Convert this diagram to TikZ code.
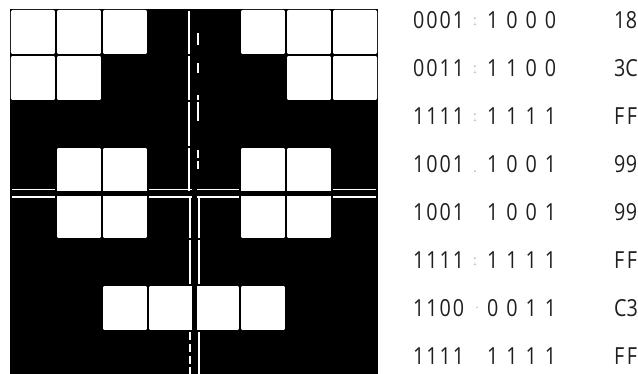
\documentclass[tikz,border=0pt]{standalone}
\usepackage{fontspec}
\setmainfont{Open Sans}
\newfontfamily\bitfont[FakeStretch=0.84]{Open Sans}
\begin{document}
\begin{tikzpicture}[x=1pt,y=-1pt]
\tikzset{
  bits/.style={font=\bitfont\fontsize{23.5}{23.5}\selectfont, text=black!88, inner sep=0pt, anchor=west},
  sepmark/.style={font=\fontsize{14}{14}\selectfont, text=black!30, inner sep=0pt},
  cellfill/.style={fill=white, rounded corners=2.5pt},
  axisline/.style={draw=white, line width=1.6pt},
  gridcut/.style={draw=black, line width=1.6pt},
  centercut/.style={draw=black, line width=5pt},
}
\useasboundingbox (0,0) rectangle (638,374);
\fill[white] (0,0) rectangle (638,374);
% ---------- the 8x8 pixel grid ----------
\begin{scope}
\clip (10,9) rectangle (378,374);
\fill[black] (10,9) rectangle (378,377);
% white axis lines (double cross)
\path[axisline] (12,189.7) -- (376,189.7);
\path[axisline] (12,197.2) -- (376,197.2);
\path[axisline] (189,11) -- (189,192);
\path[axisline] (198,33) -- (198,45) (198,63) -- (198,73) (198,95) -- (198,121)
                (198,150) -- (198,158) (198,161) -- (198,169);
\path[axisline] (190,196) -- (190,376);
\path[axisline] (199,196) -- (199,376);
% white cells (complement of the bit pattern)
\foreach \r/\c in {0/0,0/1,0/2,0/5,0/6,0/7,
                   1/0,1/1,1/6,1/7,
                   3/1,3/2,3/5,3/6,
                   4/1,4/2,4/5,4/6,
                   6/2,6/3,6/4,6/5}
  \path[cellfill] ({10+46*\c+0.8},{9+46*\r+0.8}) rectangle ({10+46*(\c+1)-0.8},{9+46*(\r+1)-0.8});
% black separators between cells
\foreach \i in {1,2,3,5,6,7} {
  \path[gridcut] ({10+46*\i},9) -- ({10+46*\i},377);
  \path[gridcut] (10,{9+46*\i}) -- (378,{9+46*\i});
}
\path[centercut] (194,9) -- (194,377);
\path[centercut] (10,193.5) -- (378,193.5);
% gaps in the lower left axis line below the bottom cells
\path[draw=black, line width=2pt] (190,340) -- (190,344) (190,352) -- (190,356) (190,364) -- (190,367);
\end{scope}
% ---------- the table of bytes ----------
\node[bits] (a1) at (413,20)  {\hbox to 51pt{0\hfil0\hfil0\hfil1}};
\node[bits] (a2) at (413,68)  {\hbox to 51pt{0\hfil0\hfil1\hfil1}};
\node[bits] (a3) at (413,116) {\hbox to 51pt{1\hfil1\hfil1\hfil1}};
\node[bits] (a4) at (413,164) {\hbox to 51pt{1\hfil0\hfil0\hfil1}};
\node[bits] (a5) at (413,212) {\hbox to 51pt{1\hfil0\hfil0\hfil1}};
\node[bits] (a6) at (413,260) {\hbox to 51pt{1\hfil1\hfil1\hfil1}};
\node[bits] (a7) at (413,308) {\hbox to 51pt{1\hfil1\hfil0\hfil0}};
\node[bits] (a8) at (413,356) {\hbox to 51pt{1\hfil1\hfil1\hfil1}};
\node[bits] (b1) at (487,20)  {\hbox to 69pt{1\hfil0\hfil0\hfil0}};
\node[bits] (b2) at (487,68)  {\hbox to 69pt{1\hfil1\hfil0\hfil0}};
\node[bits] (b3) at (487,116) {\hbox to 69pt{1\hfil1\hfil1\hfil1}};
\node[bits] (b4) at (487,164) {\hbox to 69pt{1\hfil0\hfil0\hfil1}};
\node[bits] (b5) at (487,212) {\hbox to 69pt{1\hfil0\hfil0\hfil1}};
\node[bits] (b6) at (487,260) {\hbox to 69pt{1\hfil1\hfil1\hfil1}};
\node[bits] (b7) at (487,308) {\hbox to 69pt{0\hfil0\hfil1\hfil1}};
\node[bits] (b8) at (487,356) {\hbox to 69pt{1\hfil1\hfil1\hfil1}};
\node[bits] (h1) at (614,20)  {\hbox to 23pt{1\hfil8}};
\node[bits] (h2) at (614,68)  {\hbox to 23pt{3\hfil C}};
\node[bits] (h3) at (614,116) {\hbox to 23pt{F\hfil F}};
\node[bits] (h4) at (614,164) {\hbox to 23pt{9\hfil 9}};
\node[bits] (h5) at (614,212) {\hbox to 23pt{9\hfil 9}};
\node[bits] (h6) at (614,260) {\hbox to 23pt{F\hfil F}};
\node[bits] (h7) at (614,308) {\hbox to 23pt{C\hfil 3}};
\node[bits] (h8) at (614,356) {\hbox to 23pt{F\hfil F}};
\node[sepmark] (s1) at (475,22)  {:};
\node[sepmark] (s2) at (475,70)  {:};
\node[sepmark] (s3) at (475,118) {:};
\node[sepmark] (s4) at (475,172) {.};
\node[sepmark] (s6) at (475,262) {:};
\node[sepmark] (s7) at (477,308) {$\cdot$};
\end{tikzpicture}
\end{document}
